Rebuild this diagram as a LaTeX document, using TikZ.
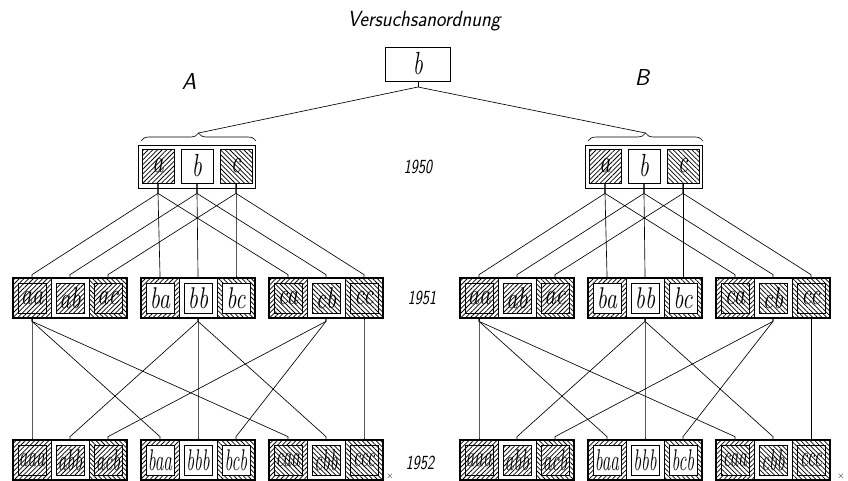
\documentclass[tikz,border=0pt]{standalone}
\usepackage{fontspec}
\usepackage{graphicx}
\usetikzlibrary{patterns.meta,decorations.pathreplacing,calc}
\newcommand\narrow[2]{\scalebox{#1}[1]{#2}}
\newcommand\heavy{\addfontfeatures{FakeBold=0.9}}
\newcommand\semi{\addfontfeatures{FakeBold=0.6}}
\tikzset{
  pat-a/.style={preaction={fill=white},pattern={Lines[angle=45,distance=3.3pt,line width=0.75pt]}},
  pat-b/.style={fill=white},
  pat-c/.style={preaction={fill=white},pattern={Lines[angle=-45,distance=3.3pt,line width=0.75pt]}},
  conn/.style={line width=0.65pt},
  box50/.style={draw,line width=0.9pt,minimum width=117pt,minimum height=43pt,inner sep=0pt,fill=white},
  cell50/.style={draw,line width=0.8pt,minimum width=32pt,minimum height=34pt,inner sep=0pt,font=\fontsize{32}{32}\selectfont\itshape\heavy},
  topbox/.style={draw,line width=0.9pt,minimum width=65pt,minimum height=34pt,inner sep=0pt,font=\fontsize{32}{32}\selectfont\itshape\heavy},
  outer5x/.style={draw,line width=0.7pt,minimum width=38pt,minimum height=40pt,inner sep=0pt},
  inner51/.style={draw,line width=0.7pt,minimum width=28pt,minimum height=30pt,inner sep=0pt,font=\fontsize{30}{30}\selectfont\itshape\heavy},
  inner52/.style={draw,line width=0.7pt,minimum width=28pt,minimum height=30pt,inner sep=0pt,font=\fontsize{30}{30}\selectfont\itshape\heavy},
  grp/.style={line width=1.1pt},
  year/.style={font=\fontsize{20}{20}\selectfont\sffamily\itshape\semi},
  side/.style={font=\fontsize{23}{23}\selectfont\sffamily\itshape\semi},
  ttl/.style={font=\fontsize{22}{22}\selectfont\sffamily\itshape\semi},
}
\begin{document}
\begin{tikzpicture}[x=1pt,y=-1pt]
\useasboundingbox (0,0) rectangle (848,480);
\node[ttl] (title) at (424,21) {\narrow{0.92}{Versuchsanordnung}};
\node[side] (lA) at (189,82) {A};
\node[side] (lB) at (642,78) {B};
\node[topbox] (top) at (418,64) {\narrow{0.7}{b}};
\coordinate (tj) at (418,87);
\draw[conn] (top.south) -- (tj);
\node[year] (y50) at (418,167) {\narrow{0.75}{1950}};
\node[year] (y51) at (422,298) {\narrow{0.75}{1951}};
\node[year] (y52) at (420,463) {\narrow{0.75}{1952}};
\node[font=\small] (xA) at (390,476) {$\times$};
\node[font=\small] (xB) at (841,476) {$\times$};
\foreach \S/\dx in {A/0,B/447} {
  % generation 1950
  \node[box50] (\S-0) at (197+\dx,166.5) {};
  \draw[conn,decorate,decoration={brace,amplitude=8pt}] (141+\dx,141) -- (256+\dx,141);
  \coordinate (\S-tip) at (198.5+\dx,133);
  \draw[conn] (tj) -- (\S-tip);
  \foreach \p/\xx in {a/158,b/197,c/236}
    \node[cell50,pat-\p] (\S-\p) at (\xx+\dx,166) {\narrow{0.7}{\p}};
  % generation 1951
  \foreach \g [count=\i from 0] in {a,b,c} {
    \foreach \p [count=\j from 0] in {a,b,c} {
      \pgfmathsetmacro\cx{32+128*\i+38*\j+\dx}
      \node[outer5x,pat-\p] (\S-\g\p) at (\cx,298) {};
      \node[inner51,pat-\g] (\S-\g\p-in) at (\cx,298) {\narrow{0.75}{\g\p}};
      \draw[conn] (\S-\p.south) -- ++(0,10) -- ($(\S-\g\p.north)+(0,-3)$) -- (\S-\g\p.north);
    }
    \draw[grp] (13+128*\i+\dx,278) rectangle ++(114,40);
  }
  % generation 1952
  \foreach \t/\pa/\i/\j/\f/\g in {aaa/aa/0/0/a/a, abb/bb/0/1/b/a, acb/cb/0/2/c/a,
      baa/aa/1/0/a/b, bbb/bb/1/1/b/b, bcb/cb/1/2/c/b,
      caa/aa/2/0/a/c, cbb/bb/2/1/b/c, ccc/cc/2/2/c/c} {
    \pgfmathsetmacro\cx{32+128*\i+38*\j+\dx}
    \node[outer5x,pat-\f] (\S-\t) at (\cx,460) {};
    \node[inner52,pat-\g] (\S-\t-in) at (\cx,460) {\narrow{0.58}{\t}};
    \draw[conn] (\S-\pa.south) -- ++(0,3) -- ($(\S-\t.north)+(0,-3)$) -- (\S-\t.north);
  }
  \foreach \i in {0,1,2}
    \draw[grp] (13+128*\i+\dx,440) rectangle ++(114,40);
}
\end{tikzpicture}
\end{document}
